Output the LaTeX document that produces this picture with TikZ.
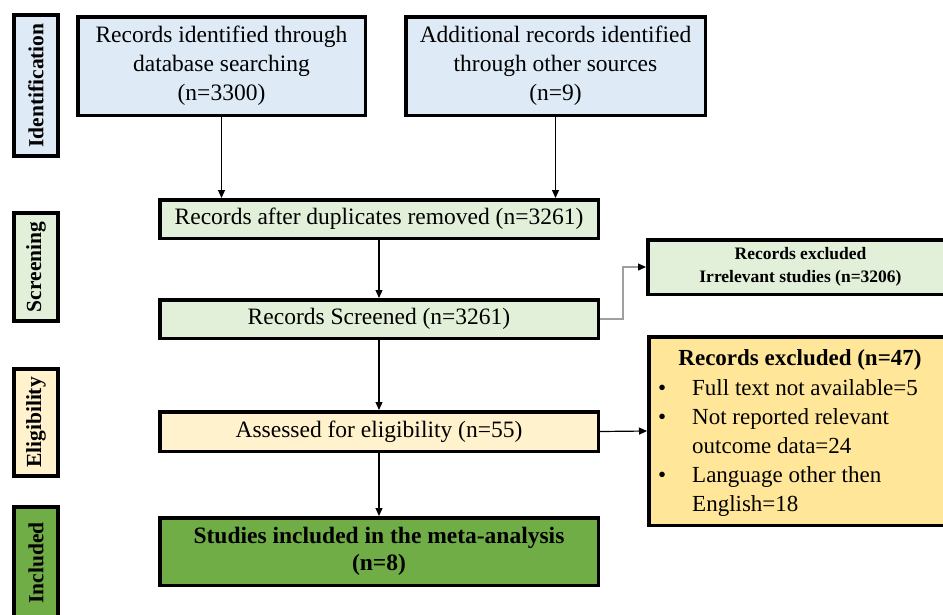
\documentclass[tikz,border=0pt]{standalone}
\usepackage{fontspec}
\setmainfont{Liberation Serif}
\usetikzlibrary{arrows.meta}
\definecolor{idblue}{HTML}{DEEBF7}
\definecolor{scgreen}{HTML}{E2F0D9}
\definecolor{elyellow}{HTML}{FFF2CC}
\definecolor{exorange}{HTML}{FFE699}
\definecolor{ingreen}{HTML}{70AD47}
\tikzset{
  box/.style={draw=black, line width=3.5pt, inner sep=0pt, align=center,
    font=\fontsize{23.5}{29}\selectfont},
  sidebox/.style={draw=black, line width=3.5pt, inner sep=0pt, rotate=90,
    font=\bfseries\fontsize{21.5}{24}\selectfont},
  arr/.style={-{Triangle[length=8pt,width=7pt]}, line width=1.2pt},
  elbow/.style={-{Triangle[length=8pt,width=7pt,color=black]}, line width=1.2pt, draw=gray!75},
}
\begin{document}
\begin{tikzpicture}[x=1pt,y=-1pt]
\useasboundingbox (0,0) rectangle (943,614);
\fill[white] (0,0) rectangle (943,614);
\clip (0,0) rectangle (943,614);

% side labels
\node[sidebox, fill=idblue, minimum width=141, minimum height=44] (sid) at (36,85.5) {Identification};
\node[sidebox, fill=scgreen, minimum width=108, minimum height=44] (ssc) at (36,267) {Screening};
\node[sidebox, fill=elyellow, minimum width=107, minimum height=44] (sel) at (36,422.5) {Eligibility};
\node[sidebox, fill=ingreen, minimum width=112, minimum height=44] (sin) at (36,563) {Included};

% main boxes
\node[box, fill=idblue, minimum width=287.5, minimum height=98.5] (A) at (221.5,66)
  {Records identified through\\database searching\\(n=3300)};
\node[box, fill=idblue, minimum width=299.5, minimum height=98.5] (B) at (555.5,66)
  {Additional records identified\\through other sources\\(n=9)};
\node[box, fill=scgreen, minimum width=438.5, minimum height=38.5] (C) at (379,219)
  {Records after duplicates removed (n=3261)};
\node[box, fill=scgreen, minimum width=438.5, minimum height=38.5] (D) at (379,319)
  {Records Screened (n=3261)};
\node[box, fill=elyellow, minimum width=438.5, minimum height=39.5] (E) at (379,431.5)
  {Assessed for eligibility (n=55)};
\node[box, fill=ingreen, minimum width=438.5, minimum height=67.5,
  font=\bfseries\fontsize{23.5}{27}\selectfont] (F) at (379,551.5)
  {Studies included in the meta-analysis\\(n=8)};

% right boxes
\node[box, fill=scgreen, minimum width=305.5, minimum height=54.5,
  font=\bfseries\fontsize{17.5}{23}\selectfont] (G) at (800.5,267)
  {Records excluded\\Irrelevant studies (n=3206)};
\node[box, fill=exorange, minimum width=304.5, minimum height=188.5] (H) at (801,431) {};
\node[anchor=base, inner sep=0pt, font=\bfseries\fontsize{23}{29}\selectfont] (Ht) at (800,365)
  {Records excluded (n=47)};
\node[anchor=base west, inner sep=0pt, font=\fontsize{23}{29}\selectfont] (Hl) at (658,395)
  {\begin{tabular}[t]{@{}p{34pt}@{}l@{}}
   • & Full text not available=5\\
   • & Not reported relevant\\
     & outcome data=24\\
   • & Language other then\\
     & English=18
   \end{tabular}};

% connectors
\draw[arr] (A.south) -- (A.south |- C.north);
\draw[arr] (B.south) -- (B.south |- C.north);
\draw[arr] (C) -- (D);
\draw[arr] (D) -- (E);
\draw[arr] (E) -- (F);
\draw[elbow] (D.east) -- ++(23,0) |- (G.west);
\draw[arr] (E.east) -- (H.west);
\end{tikzpicture}
\end{document}
